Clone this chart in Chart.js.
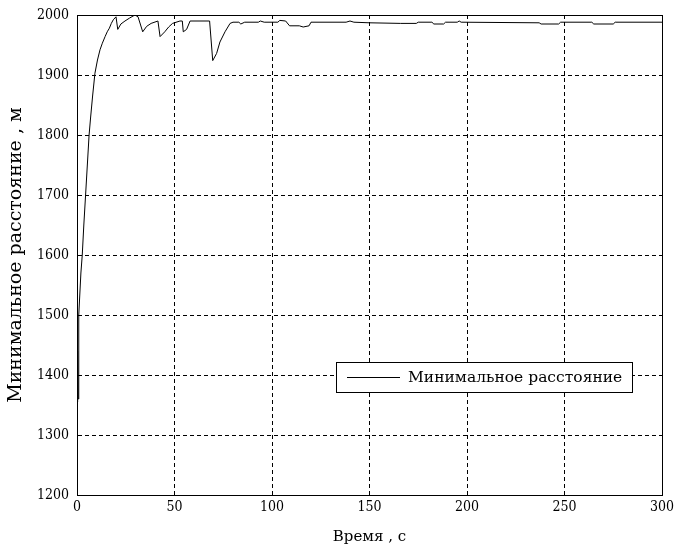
<!DOCTYPE html>
<html>
<head>
<meta charset="utf-8">
<script src="https://cdn.jsdelivr.net/npm/chart.js@4.4.1/dist/chart.umd.min.js"></script>
<style>
  html, body { margin: 0; padding: 0; background: #fff; }
  #wrap { width: 676px; height: 551px; position: relative; }
</style>
</head>
<body>
<div id="wrap"><canvas id="c" width="676" height="551"></canvas></div>
<script>
// ---- data ----
const seriesLabel = 'Минимальное расстояние';
const xTitle = 'Время , с';
const yTitle = 'Минимальное расстояние , м';

const timeS = [
  0, 0.2, 0.4, 0.6, 0.8, 1, 2, 2.7, 3.5, 4.4, 5.3, 6.2, 7, 8, 9.2, 10.5, 11.8, 13, 14.4, 15.5,
  16.6, 17.6, 18.6, 20, 20.9, 22.5, 24.6, 27, 29.7, 31.3, 33.7, 35.7, 38, 41.5, 42.6, 45, 47, 49,
  52.8, 54, 54.5, 56.2, 58, 68, 69.6, 71.6, 73.3, 75.9, 78.5, 80, 83, 84, 86, 93, 94, 96, 103, 104,
  107, 109, 114, 116, 119, 120, 138, 140, 142, 150, 166, 174, 175, 182, 183, 188, 189, 195, 196,
  197, 237, 238, 247, 248, 264, 265, 275, 276, 300
];
const minDist = [
  1440, 1355, 1440, 1360, 1470, 1500, 1570, 1600, 1650, 1700, 1750, 1800, 1830, 1865, 1903, 1925, 1942, 1953, 1964, 1972,
  1978, 1986, 1992, 1997, 1976, 1985, 1990, 1995, 2000, 1997, 1972, 1981, 1986, 1990, 1964, 1972, 1980, 1986,
  1990, 1990, 1972, 1976, 1990, 1990, 1924, 1936, 1955, 1972, 1986, 1988, 1988, 1985, 1988, 1988, 1990, 1988, 1988, 1991,
  1990, 1982, 1982, 1980, 1982, 1988, 1988, 1990, 1988, 1987, 1986, 1986, 1988, 1988, 1985, 1985, 1988, 1988, 1990,
  1988, 1987, 1985, 1985, 1988, 1988, 1985, 1985, 1988, 1988
];
const xTicks = [0, 50, 100, 150, 200, 250, 300];
const yTicks = [1200, 1300, 1400, 1500, 1600, 1700, 1800, 1900, 2000];

const points = timeS.map((t, i) => ({ x: t, y: minDist[i] }));

const TICK_FONT = '"DejaVu Serif Condensed", "DejaVu Serif", serif';
const TEXT_FONT = '"DejaVu Serif", serif';

const framePlugin = {
  id: 'frameAndLegend',
  afterDraw(chart) {
    const { ctx, chartArea: a } = chart;
    ctx.save();
    ctx.strokeStyle = '#000';
    ctx.lineWidth = 1;
    ctx.setLineDash([]);
    ctx.strokeRect(Math.round(a.left) + 0.5, Math.round(a.top) + 0.5,
                   Math.round(a.right - a.left), Math.round(a.bottom - a.top));
    // legend box
    const ds = chart.data.datasets[0];
    ctx.font = '15.5px ' + TEXT_FONT;
    const tw = ctx.measureText(ds.label).width;
    const boxRight = Math.round(a.right) - 30;
    const boxW = Math.round(tw + 82);
    const boxL = boxRight - boxW;
    const boxT = Math.round(a.top) + 347;
    const boxH = 30;
    ctx.fillStyle = '#fff';
    ctx.fillRect(boxL, boxT, boxW, boxH);
    ctx.strokeRect(boxL + 0.5, boxT + 0.5, boxW, boxH);
    const cy = boxT + boxH / 2;
    ctx.beginPath();
    ctx.strokeStyle = ds.borderColor;
    ctx.moveTo(boxL + 11, Math.round(cy) + 0.5);
    ctx.lineTo(boxL + 64, Math.round(cy) + 0.5);
    ctx.stroke();
    ctx.fillStyle = '#000';
    ctx.textBaseline = 'middle';
    ctx.textAlign = 'left';
    ctx.fillText(ds.label, boxL + 72, cy + 1);
    ctx.restore();
  }
};

new Chart(document.getElementById('c'), {
  type: 'line',
  data: {
    datasets: [{
      label: seriesLabel,
      data: points,
      borderColor: '#000',
      borderWidth: 1,
      pointRadius: 0,
      tension: 0,
      fill: false
    }]
  },
  options: {
    responsive: false,
    animation: false,
    devicePixelRatio: 1,
    layout: { padding: { top: 15, right: 14, left: 0, bottom: 0 } },
    plugins: { legend: { display: false }, tooltip: { enabled: false } },
    scales: {
      x: {
        type: 'linear',
        min: 0, max: 300,
        afterBuildTicks(s) { s.ticks = xTicks.map(v => ({ value: v })); },
        afterFit(s) { s.height = 56; s.paddingLeft = 0; s.paddingRight = 0; },
        grid: { color: '#000', lineWidth: 1, drawTicks: false },
        border: { display: true, color: '#000', width: 1, dash: [4, 3] },
        ticks: { color: '#000', font: { family: TICK_FONT, size: 14 }, padding: 4, maxRotation: 0,
                 callback: v => String(v) },
        title: { display: true, text: xTitle, color: '#000',
                 font: { family: TEXT_FONT, size: 15 }, padding: { top: 0, bottom: 5 } }
      },
      y: {
        type: 'linear',
        min: 1200, max: 2000,
        afterBuildTicks(s) { s.ticks = yTicks.map(v => ({ value: v })); },
        afterFit(s) { s.width = 77; s.paddingTop = 0; s.paddingBottom = 0; },
        grid: { color: '#000', lineWidth: 1, drawTicks: false },
        border: { display: true, color: '#000', width: 1, dash: [4, 3] },
        ticks: { color: '#000', font: { family: TICK_FONT, size: 14 }, padding: 8,
                 callback: v => String(v) },
        title: { display: true, text: yTitle, color: '#000',
                 font: { family: TEXT_FONT, size: 19 }, padding: { top: 5, bottom: 0 } }
      }
    }
  },
  plugins: [framePlugin]
});
</script>
</body>
</html>
